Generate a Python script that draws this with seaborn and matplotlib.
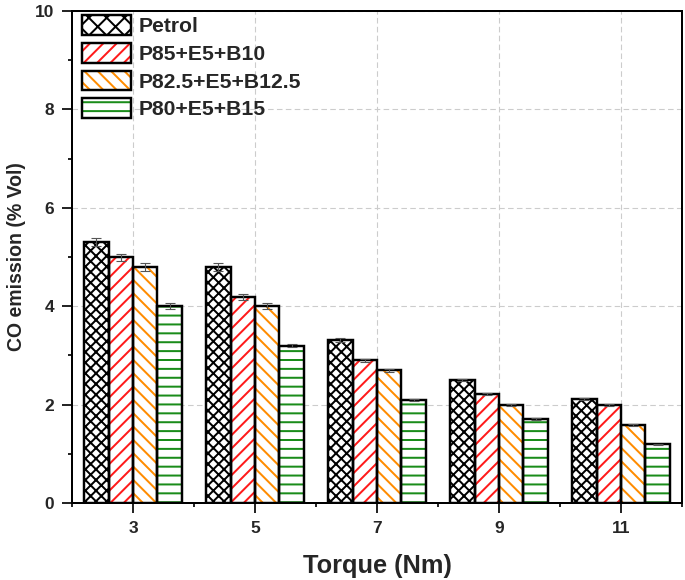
import numpy as np
import pandas as pd
import seaborn as sns
from matplotlib import pyplot as plt
from matplotlib.patches import Patch, Rectangle
from matplotlib.ticker import FixedLocator

torque = ["3", "5", "7", "9", "11"]
fuels = ["Petrol", "P85+E5+B10", "P82.5+E5+B12.5", "P80+E5+B15"]
co_petrol = [5.30, 4.80, 3.31, 2.50, 2.11]
co_b10 = [4.99, 4.19, 2.90, 2.21, 2.00]
co_b125 = [4.80, 4.00, 2.70, 2.00, 1.59]
co_b15 = [4.00, 3.20, 2.10, 1.71, 1.19]
err_petrol = [0.08, 0.075, 0.035, 0.03, 0.02]
err_b10 = [0.08, 0.06, 0.03, 0.02, 0.02]
err_b125 = [0.075, 0.055, 0.03, 0.02, 0.015]
err_b15 = [0.06, 0.035, 0.02, 0.015, 0.015]

HATCHES = ["xxxxx", "////", "\\\\\\\\", "---"]
LEGEND_HATCHES = ["xxx", "////", "\\\\\\\\", "---"]
HATCH_COLORS = ["black", "#ff1a1a", "#ff8c00", "#1a8c1a"]


def build_frame():
    values = [co_petrol, co_b10, co_b125, co_b15]
    errors = [err_petrol, err_b10, err_b125, err_b15]
    rows = []
    for fuel, vals, errs in zip(fuels, values, errors):
        for t, v, e in zip(torque, vals, errs):
            rows.append({"Torque": t, "Fuel": fuel, "CO": v, "err": e})
    return pd.DataFrame(rows)


def main():
    df = build_frame()

    sns.set_style("ticks")
    plt.rcParams["font.family"] = ["Liberation Sans", "DejaVu Sans"]
    plt.rcParams["font.weight"] = "bold"
    plt.rcParams["hatch.linewidth"] = 0.9

    fig = plt.figure(figsize=(685 / 160, 580 / 160), dpi=160)
    ax = fig.add_axes([72 / 685, 77 / 580, 610 / 685, 492 / 580])

    sns.barplot(
        data=df, x="Torque", y="CO", hue="Fuel", order=torque,
        hue_order=fuels, palette=["white"] * 4, linewidth=0,
        errorbar=None, legend=False, ax=ax,
    )

    bar_conts = list(ax.containers)
    handles = []
    for i, cont in enumerate(bar_conts):
        sub = df[df["Fuel"] == fuels[i]]
        for bar in cont:
            bar.set_hatch(HATCHES[i])
            bar.set_edgecolor(HATCH_COLORS[i])
            bar.set_linewidth(0)
            bar.set_zorder(2)
            ax.add_patch(Rectangle(bar.get_xy(), bar.get_width(), bar.get_height(),
                                   fill=False, edgecolor="black", linewidth=1.1, zorder=3))
        xs = [b.get_x() + b.get_width() / 2 for b in cont]
        ax.errorbar(xs, sub["CO"], yerr=sub["err"], fmt="none", ecolor="#555555",
                    elinewidth=0.5, capsize=2.2, capthick=0.5, zorder=4)
        h1 = Patch(facecolor="white", edgecolor=HATCH_COLORS[i], hatch=LEGEND_HATCHES[i],
                   linewidth=0)
        h2 = Patch(facecolor="none", edgecolor="black", linewidth=1.1)
        handles.append((h1, h2))

    ax.set_xlim(-0.5, 4.5)
    ax.set_ylim(0, 10)
    yt = np.arange(0, 11, 2)
    ax.set_yticks(yt)
    ax.set_yticklabels([str(v) for v in yt], fontweight="bold", fontsize=7.8)
    ax.set_xticks(range(len(torque)))
    ax.set_xticklabels(torque, fontweight="bold", fontsize=7.8)
    ax.yaxis.set_minor_locator(FixedLocator(np.arange(1, 10, 2)))
    ax.xaxis.set_minor_locator(FixedLocator(np.arange(-0.5, 4.6, 1)))
    ax.tick_params(axis="both", which="major", direction="out", length=4.5, width=0.9,
                   pad=3.5)
    ax.tick_params(axis="both", which="minor", direction="out", length=1.8, width=0.9)

    for s in ax.spines.values():
        s.set_visible(True)
        s.set_linewidth(0.9)
        s.set_color("black")

    ax.set_axisbelow(True)
    ax.grid(True, which="major", linestyle=(0, (5, 3)), color="#cccccc", linewidth=0.5)

    ax.set_xlabel("Torque (Nm)", fontsize=11.4, fontweight="bold")
    ax.set_ylabel("CO emission (% Vol)", fontsize=8.8, fontweight="bold")
    ax.xaxis.set_label_coords(0.5, -0.103)
    ax.yaxis.set_label_coords(-0.076, 0.5)

    ax.legend(handles, fuels, loc="upper left", bbox_to_anchor=(0.01, 1.0),
              frameon=False, fontsize=9.5, handlelength=2.3, handleheight=1.05,
              handletextpad=0.35, labelspacing=0.32, borderpad=0.2, borderaxespad=0)

    fig.savefig("out.png", dpi=160)


if __name__ == "__main__":
    main()
